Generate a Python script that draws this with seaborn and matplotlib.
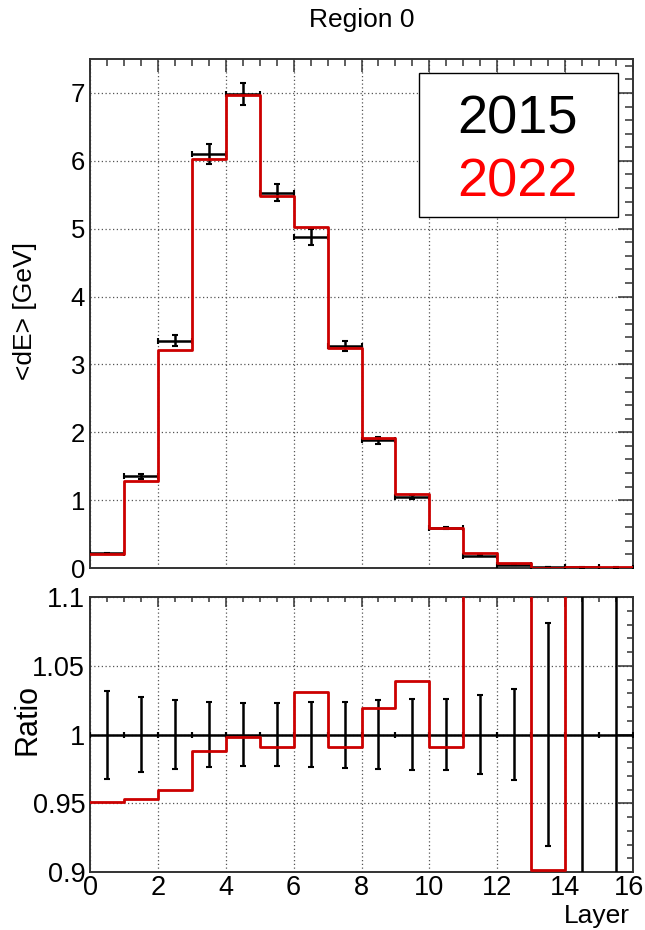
import numpy as np
import pandas as pd
import matplotlib
matplotlib.use("Agg")
import matplotlib.pyplot as plt
import matplotlib.patches as mpatches
import matplotlib.transforms as mtransforms
from matplotlib.ticker import MultipleLocator, FixedLocator, FixedFormatter
import seaborn as sns

# ---------------- data ----------------
layers = list(range(16))                      # bins 0..15, each of width 1
mean_dE_2015 = [0.22, 1.35, 3.35, 6.10, 6.98, 5.53, 4.88, 3.27,
                1.88, 1.05, 0.59, 0.18, 0.05, 0.02, 0.01, 0.006]
err_dE_2015 = [0.007, 0.036, 0.084, 0.143, 0.160, 0.127, 0.115, 0.078,
               0.047, 0.027, 0.015, 0.005, 0.0017, 0.0016, 0.003, 0.003]
mean_dE_2022 = [0.209, 1.287, 3.216, 6.027, 6.966, 5.480, 5.031, 3.241,
                1.916, 1.091, 0.585, 0.220, 0.0725, 0.0, 0.015, 0.0096]
ratio_2022 = [0.951, 0.953, 0.960, 0.988, 0.998, 0.991, 1.031, 0.991,
              1.019, 1.039, 0.991, 1.22, 1.45, 0.0, 1.5, 1.6]
ratio_ref = [1.0] * 16
ratio_err = [0.032, 0.027, 0.025, 0.0235, 0.023, 0.023, 0.0235, 0.024,
             0.025, 0.0255, 0.026, 0.0285, 0.033, 0.081, 0.30, 0.50]

title = "Region 0"
ylabel_top = "<dE> [GeV]"
ylabel_bottom = "Ratio"
xlabel = "Layer"
legend_labels = ["2015", "2022"]
xtick_vals = [0, 2, 4, 6, 8, 10, 12, 14, 16]
xtick_labels = ["0", "2", "4", "6", "8", "10", "12", "14", "16"]
ytick_top_vals = [0, 1, 2, 3, 4, 5, 6, 7]
ytick_top_labels = ["0", "1", "2", "3", "4", "5", "6", "7"]
ytick_bot_vals = [0.9, 0.95, 1.0, 1.05, 1.1]
ytick_bot_labels = ["0.9", "0.95", "1", "1.05", "1.1"]

# ---------------- style ----------------
sns.set_style("white")
plt.rcParams["font.family"] = ["Liberation Sans", "DejaVu Sans"]
plt.rcParams["text.color"] = "black"
plt.rcParams["axes.labelcolor"] = "black"
RED = "#cc0000"
BLACK = "black"
GRID = dict(color="#555555", linestyle=(0, (1, 2)), linewidth=0.9)

edges = np.arange(len(layers) + 1)
centers = np.asarray(layers) + 0.5

df_top = pd.DataFrame({"edge": edges,
                       "v2022": mean_dE_2022 + [mean_dE_2022[-1]]})
# values below the ratio-pad minimum are drawn at the minimum (as ROOT does)
df_bot = pd.DataFrame({"edge": edges,
                       "r": np.clip(ratio_2022 + [ratio_2022[-1]], 0.9015, None)})

fig = plt.figure(figsize=(6.45, 9.30), dpi=100)
W, H = 645, 930
ax1 = fig.add_axes([90 / W, 1 - 568 / H, 543 / W, 509 / H])
ax2 = fig.add_axes([90 / W, 1 - 872 / H, 543 / W, 275 / H])

# ---------------- top panel ----------------
ax1.errorbar(centers, mean_dE_2015, xerr=0.5, yerr=err_dE_2015, fmt="none",
             ecolor=BLACK, elinewidth=1.8, capsize=2.5, capthick=1.5, zorder=3)
sns.lineplot(data=df_top, x="edge", y="v2022", ax=ax1, color=RED,
             linewidth=2.0, drawstyle="steps-post", zorder=4)
ax1.set_xlim(0, 16)
ax1.set_ylim(0, 7.5)

# ---------------- bottom panel ----------------
ax2.errorbar(centers, ratio_ref, xerr=0.5, yerr=ratio_err, fmt="none",
             ecolor=BLACK, elinewidth=1.8, capsize=2.5, capthick=1.5, zorder=3)
sns.lineplot(data=df_bot, x="edge", y="r", ax=ax2, color=RED,
             linewidth=2.0, drawstyle="steps-post", zorder=4)
ax2.set_xlim(0, 16)
ax2.set_ylim(0.9, 1.1)

for ax in (ax1, ax2):
    ax.set_axisbelow(True)
    ax.xaxis.set_major_locator(FixedLocator(xtick_vals))
    ax.xaxis.set_minor_locator(MultipleLocator(0.5))
    ax.grid(True, which="major", **GRID)
    ax.tick_params(which="both", direction="in", top=True, right=True,
                   colors="#333333", width=1.1, labelcolor="black",
                   labelsize=18.5)
    for s in ax.spines.values():
        s.set_color("#333333")
        s.set_linewidth(1.4)
    ax.set_xlabel("")
    ax.set_ylabel("")

ax1.yaxis.set_major_locator(FixedLocator(ytick_top_vals))
ax1.yaxis.set_major_formatter(FixedFormatter(ytick_top_labels))
ax1.yaxis.set_minor_locator(MultipleLocator(0.2))
ax1.tick_params(axis="x", which="major", length=9.4, labelbottom=False)
ax1.tick_params(axis="x", which="minor", length=5)
ax1.tick_params(axis="y", which="major", length=10.8, pad=3.5)
ax1.tick_params(axis="y", which="minor", length=5.8)

ax2.xaxis.set_major_formatter(FixedFormatter(xtick_labels))
ax2.yaxis.set_major_locator(FixedLocator(ytick_bot_vals))
ax2.yaxis.set_major_formatter(FixedFormatter(ytick_bot_labels))
ax2.yaxis.set_minor_locator(MultipleLocator(0.01))
ax2.tick_params(axis="x", which="major", length=7, pad=2)
ax2.tick_params(axis="x", which="minor", length=3.6)
ax2.tick_params(axis="y", which="major", length=10.8, pad=3.5)
ax2.tick_params(axis="y", which="minor", length=4.3)
ax2.tick_params(axis="both", labelsize=19.5)

# labels
ax1.set_title(title, fontsize=19, pad=23, color="black")
ax1.set_ylabel(ylabel_top, fontsize=19, color="black")
ax1.yaxis.label.set_verticalalignment("center")
ax1.yaxis.set_label_coords(-0.12, 0.505)
ax2.set_ylabel(ylabel_bottom, fontsize=22, color="black")
ax2.yaxis.label.set_verticalalignment("center")
ax2.yaxis.set_label_coords(-0.115, 0.553)
ax2.set_xlabel(xlabel, fontsize=19, loc="right", color="black")
ax2.xaxis.set_label_coords(0.995, -0.115)

# keep the last x label ("16") inside the canvas
fig.canvas.draw()
last = ax2.get_xticklabels()[-1]
last.set_transform(last.get_transform() +
                   mtransforms.ScaledTranslation(-4 / 100, 0, fig.dpi_scale_trans))

# legend box
box = mpatches.Rectangle((0.605, 0.690), 0.367, 0.2825, transform=ax1.transAxes,
                         facecolor="white", edgecolor="black", linewidth=1.0,
                         zorder=6)
ax1.add_patch(box)
ax1.text(0.788, 0.853, legend_labels[0], transform=ax1.transAxes, ha="center",
         va="baseline", fontsize=39, color="black", zorder=7)
ax1.text(0.788, 0.729, legend_labels[1], transform=ax1.transAxes, ha="center",
         va="baseline", fontsize=39, color="#ff0000", zorder=7)

fig.savefig("out.png", dpi=100)
